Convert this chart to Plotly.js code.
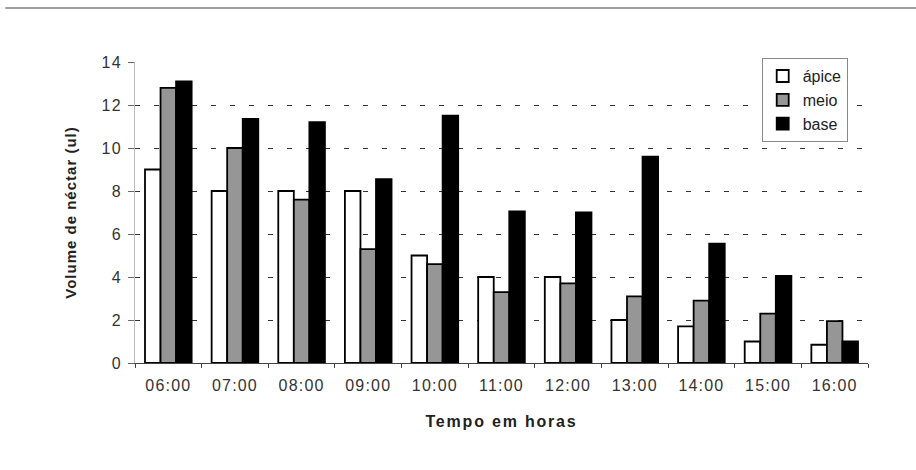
<!DOCTYPE html>
<html>
<head>
<meta charset="utf-8">
<script src="https://cdn.plot.ly/plotly-3.0.1.min.js"></script>
<style>
html,body{margin:0;padding:0;background:#fff;}
#chart{width:916px;height:470px;}
#chart .xtick text, #chart .ytick text {letter-spacing: 1.2px;}
#chart .g-xtitle text {letter-spacing: 1.8px;}
#chart .g-ytitle text {letter-spacing: 1px;}
</style>
</head>
<body>
<div id="chart"></div>
<script>
const categories = ["06:00","07:00","08:00","09:00","10:00","11:00","12:00","13:00","14:00","15:00","16:00"];
const apice = [9.0, 8.0, 8.0, 8.0, 5.0, 4.0, 4.0, 2.0, 1.7, 1.0, 0.85];
const meio  = [12.8, 10.0, 7.6, 5.3, 4.6, 3.3, 3.7, 3.1, 2.9, 2.3, 1.95];
const base  = [13.1, 11.35, 11.2, 8.55, 11.5, 7.05, 7.0, 9.6, 5.55, 4.05, 1.0];
const seriesNames = ["ápice", "meio", "base"];
const yTicks = [0, 2, 4, 6, 8, 10, 12, 14];

const fnt = "Arial, 'Liberation Sans', sans-serif";
const colors = ["#ffffff", "#969696", "#000000"];
const data = [apice, meio, base].map((vals, i) => ({
  type: "bar",
  name: seriesNames[i],
  x: categories,
  y: vals,
  marker: {color: colors[i], line: {color: "#000", width: 1.8}},
  hoverinfo: "x+y+name"
}));

const layout = {
  width: 916, height: 470,
  paper_bgcolor: "#fff", plot_bgcolor: "#fff",
  margin: {l: 135, r: 48, t: 62, b: 107},
  barmode: "group", bargap: 0.3, bargroupgap: 0,
  showlegend: true,
  legend: {
    x: 0.855, y: 1.013, xanchor: "left", yanchor: "top",
    bgcolor: "#fff", bordercolor: "#888", borderwidth: 1,
    font: {family: fnt, size: 16, color: "#222"},
    tracegroupgap: 0, itemwidth: 30
  },
  xaxis: {
    type: "category",
    showgrid: false,
    showline: true, linecolor: "#444", linewidth: 1,
    ticks: "outside", tickson: "boundaries", ticklen: 4, tickcolor: "#444",
    ticklabelstandoff: 8,
    tickfont: {family: fnt, size: 16, color: "#333"},
    title: {text: "<b>Tempo em horas</b>", font: {family: fnt, size: 16, color: "#222"}, standoff: 22},
    fixedrange: true
  },
  yaxis: {
    range: [0, 14],
    tickvals: yTicks,
    ticktext: yTicks.map(String),
    showgrid: true, gridcolor: "#333", griddash: "5px,14px", gridwidth: 1,
    zeroline: false,
    showline: true, linecolor: "#bbb", linewidth: 1,
    ticks: "outside", ticklen: 6, tickcolor: "#666",
    ticklabelstandoff: 3,
    tickfont: {family: fnt, size: 16, color: "#333"},
    title: {text: "<b>Volume de néctar (ul)</b>", font: {family: fnt, size: 15, color: "#222"}, standoff: 23},
    fixedrange: true
  },
  shapes: [{
    type: "line", xref: "paper", yref: "paper",
    x0: -0.177, x1: 1.07, y0: 1.179, y1: 1.179,
    line: {color: "#a0a0a0", width: 2}
  }]
};

Plotly.newPlot("chart", data, layout, {displayModeBar: false, staticPlot: true});
</script>
</body>
</html>
